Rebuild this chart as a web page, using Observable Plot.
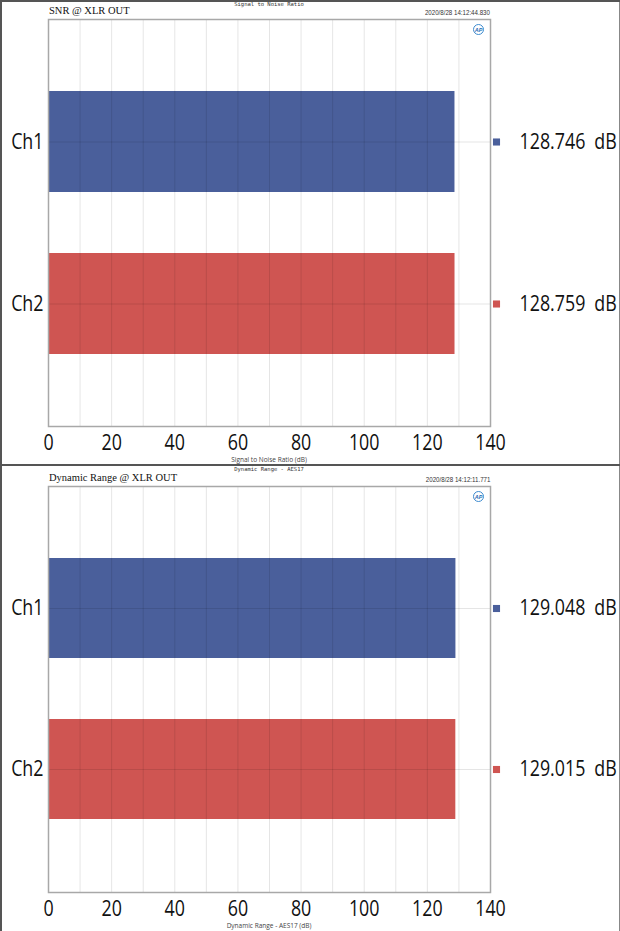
<!DOCTYPE html>
<html><head><meta charset="utf-8">
<script src="https://cdn.jsdelivr.net/npm/d3@7"></script>
<script src="https://cdn.jsdelivr.net/npm/@observablehq/plot@0.6"></script>
<style>
body{margin:0;background:#fff;}
#wrap{position:relative;width:620px;height:931px;overflow:hidden;background:#fff;}
.panel{position:absolute;left:0;width:620px;}
.panel svg{position:absolute;left:0;top:0;}
.t{position:absolute;white-space:nowrap;line-height:1;}
.title{font-family:"Liberation Serif","DejaVu Serif",serif;font-size:10.5px;color:#111;}
.stamp{font-family:"Liberation Sans","Open Sans",sans-serif;font-size:7px;color:#333;transform:scaleX(0.88);transform-origin:right center;}
.ctitle{font-family:"DejaVu Sans Mono",monospace;font-size:5.5px;color:#333;transform:translateX(-50%);}
.xlabel{font-family:"Open Sans",sans-serif;font-size:6.5px;color:#444;transform:translateX(-50%);}
.logo{width:9px;height:9px;border:1.2px solid #3d8bd0;border-radius:50%;color:#2a6db5;font:italic bold 5.5px "Liberation Sans",sans-serif;display:flex;align-items:center;justify-content:center;}
.border{position:absolute;pointer-events:none;background:#555;}
</style></head>
<body><div id="wrap"></div>
<script>
const channels = ["Ch1", "Ch2"];
const snrValues = [128.746, 128.759];
const drValues = [129.048, 129.015];
const channelColors = ["#4a5f9b", "#cf5552"];
const xTickLabels = [0, 20, 40, 60, 80, 100, 120, 140];
const xGridTicks = [0, 10, 20, 30, 40, 50, 60, 70, 80, 90, 100, 110, 120, 130, 140];

const panels = [
  {values: snrValues, top: 0, height: 465, mt: 19, mb: 39,
   title: "SNR @ XLR OUT", stamp: "2020/8/28 14:12:44.830",
   ctitle: "Signal to Noise Ratio", xlabel: "Signal to Noise Ratio (dB)"},
  {values: drValues, top: 465, height: 466, mt: 21, mb: 39,
   title: "Dynamic Range @ XLR OUT", stamp: "2020/8/28 14:12:11.771",
   ctitle: "Dynamic Range - AES17", xlabel: "Dynamic Range - AES17 (dB)"}
];

const wrap = document.getElementById("wrap");
const font = "'Open Sans', sans-serif";

for (const p of panels) {
  const data = channels.map((ch, i) => ({ch, value: p.values[i]}));
  const div = document.createElement("div");
  div.className = "panel";
  div.style.top = p.top + "px";
  div.style.height = p.height + "px";
  const chart = Plot.plot({
    width: 620, height: p.height,
    marginTop: p.mt, marginBottom: p.mb, marginLeft: 48, marginRight: 130,
    style: {fontFamily: font, background: "transparent", color: "#111"},
    x: {domain: [0, 140]},
    y: {domain: channels, paddingInner: 0.376, paddingOuter: 0.444},
    color: {domain: channels, range: channelColors},
    marks: [
      Plot.barX(data, {x: "value", y: "ch", fill: "ch"}),
      Plot.ruleX(xGridTicks, {stroke: "#000", strokeOpacity: 0.1}),
      Plot.gridY({stroke: "#000", strokeOpacity: 0.1}),
      Plot.frame({stroke: "#a8a8a8", strokeWidth: 1.5}),
      Plot.axisX({ticks: xTickLabels, tickSize: 0, tickPadding: 9, fontSize: 21, label: null}),
      Plot.axisY({tickSize: 0, tickPadding: 5, fontSize: 21, label: null}),
      Plot.dot(data, {y: "ch", frameAnchor: "right", dx: 6, symbol: "square", r: 4, fill: "ch"}),
      Plot.text(data, {y: "ch", frameAnchor: "right", dx: 29, textAnchor: "start", fontSize: 21,
        text: d => d.value.toFixed(3) + "\u2002dB"})
    ]
  });
  div.appendChild(chart);
  const add = (cls, txt, css) => {
    const s = document.createElement("span");
    s.className = "t " + cls;
    s.textContent = txt;
    Object.assign(s.style, css);
    div.appendChild(s);
  };
  add("title", p.title, {left: "49px", top: (p.mt - 13) + "px"});
  add("stamp", p.stamp, {right: "130px", top: (p.mt - 10) + "px"});
  add("ctitle", p.ctitle, {left: "269px", top: "2px"});
  add("xlabel", p.xlabel, {left: "269px", top: (p.height - p.mb + 31) + "px"});
  add("logo", "AP", {left: "473px", top: (p.mt + 5) + "px"});
  wrap.appendChild(div);
  // condense the large sans labels horizontally to match the narrow original face
  chart.querySelectorAll("text").forEach(t => {
    const tr = t.getAttribute("transform") || "";
    t.setAttribute("transform", (tr + " scale(0.85,1)").trim());
  });
}
const borders = [
  {left: "0px", top: "0px", width: "2px", height: "931px"},
  {right: "0px", top: "0px", width: "1.5px", height: "931px", background: "#888"},
  {left: "0px", top: "0px", width: "620px", height: "1.5px"},
  {left: "0px", top: "464px", width: "620px", height: "2px"}
];
for (const b of borders) {
  const d = document.createElement("div");
  d.className = "border";
  Object.assign(d.style, b);
  wrap.appendChild(d);
}
</script></body></html>
